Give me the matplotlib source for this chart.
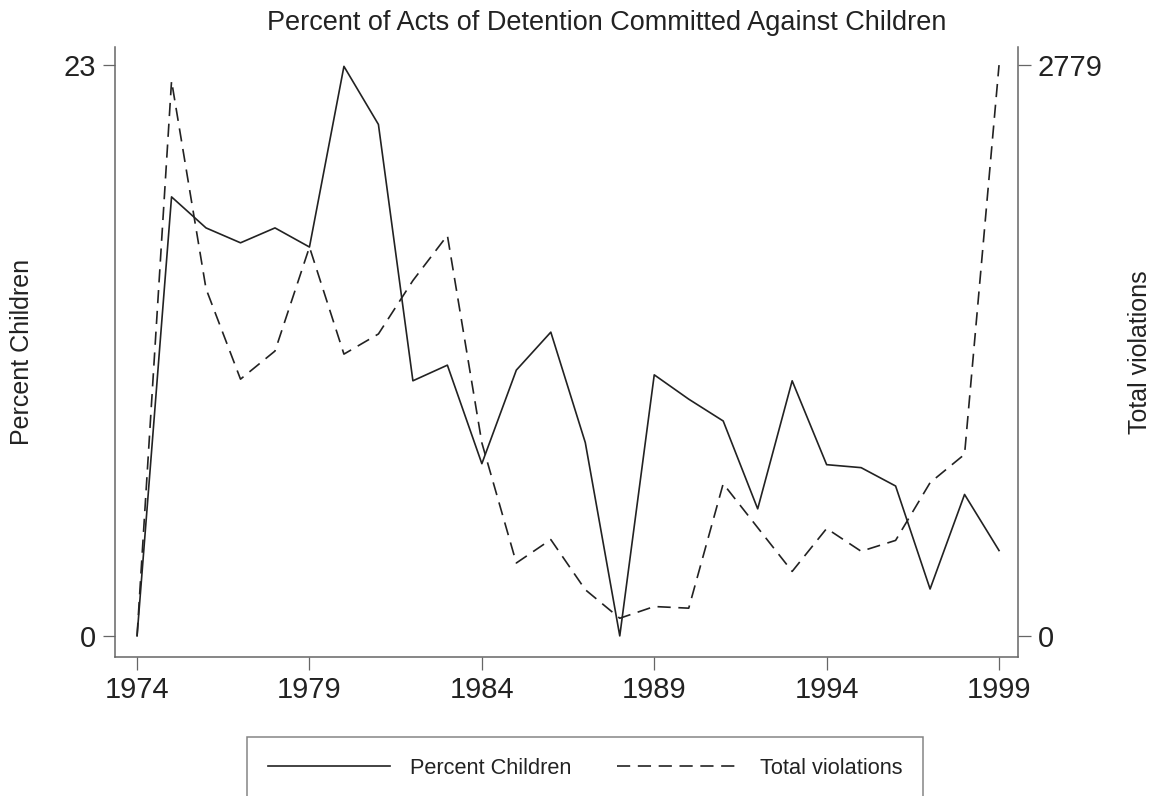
import numpy as np
import matplotlib.pyplot as plt

plt.rcParams['font.family'] = ['Liberation Sans', 'DejaVu Sans']
plt.rcParams['lines.scale_dashes'] = False

years = np.arange(1974, 2000)
pct_children = [0.0, 17.69, 16.44, 15.84, 16.44, 15.67, 22.95, 20.61, 10.28, 10.91,
                6.94, 10.71, 12.24, 7.79, 0.0, 10.52, 9.54, 8.66, 5.12, 10.28,
                6.90, 6.78, 6.04, 1.89, 5.70, 3.44]
total_viol = [0, 2702, 1690, 1250, 1387, 1893, 1372, 1470, 1730, 1950,
              940, 355, 469, 225, 86, 143, 135, 741, 527, 314,
              523, 412, 465, 746, 884, 2779]

xticks = [1974, 1979, 1984, 1989, 1994, 1999]
left_ticks = [0, 23]
right_ticks = [0, 2779]

ink = '#222222'
axis_col = '#666666'

fig = plt.figure(figsize=(11.65, 7.96), dpi=100)
ax = fig.add_axes([115 / 1165, 1 - 657 / 796, 903 / 1165, 610 / 796])
ax2 = ax.twinx()

l1, = ax.plot(years, pct_children, color=ink, lw=1.2, label='Percent Children')
l2, = ax2.plot(years, total_viol, color=ink, lw=1.2, dashes=(9.5, 5.5),
               label='Total violations')

ax.set_xlim(1973.36, 1999.55)
ax.set_ylim(-0.85, 23.73)
ax2.set_ylim(-0.85 * 2779 / 23, 23.73 * 2779 / 23)

ax.set_xticks(xticks)
ax.set_yticks(left_ticks)
ax2.set_yticks(right_ticks)

for a in (ax, ax2):
    a.spines['top'].set_visible(False)
    for s in a.spines.values():
        s.set_color(axis_col)
        s.set_linewidth(1.1)
    a.tick_params(length=9, width=0.9, color=axis_col, labelsize=21,
                  labelcolor=ink, pad=5)
ax.spines['right'].set_visible(False)
ax2.spines['left'].set_visible(False)
ax2.spines['bottom'].set_visible(False)

ax.set_ylabel('Percent Children', fontsize=18, color=ink)
ax2.set_ylabel('Total violations', fontsize=18, color=ink)
ax.yaxis.set_label_coords(-0.103, 0.5)
ax2.yaxis.set_label_coords(1.135, 0.5)
ax.yaxis.label.set_va('center')
ax2.yaxis.label.set_va('center')

ax.set_title('Percent of Acts of Detention Committed Against Children',
             fontsize=19.5, color=ink, x=0.545, y=1.039, va='center', pad=0)

leg = fig.legend(handles=[l1, l2], loc='upper center',
                 bbox_to_anchor=(585 / 1165, 1 - 737 / 796), ncol=2,
                 fontsize=15.7, frameon=True, fancybox=False, edgecolor=axis_col,
                 handlelength=5.6, handletextpad=0.92, columnspacing=2.1,
                 borderpad=0.95, borderaxespad=0)
leg.get_frame().set_linewidth(1.1)
for t in leg.get_texts():
    t.set_color(ink)

fig.savefig('out.png', dpi=100)
